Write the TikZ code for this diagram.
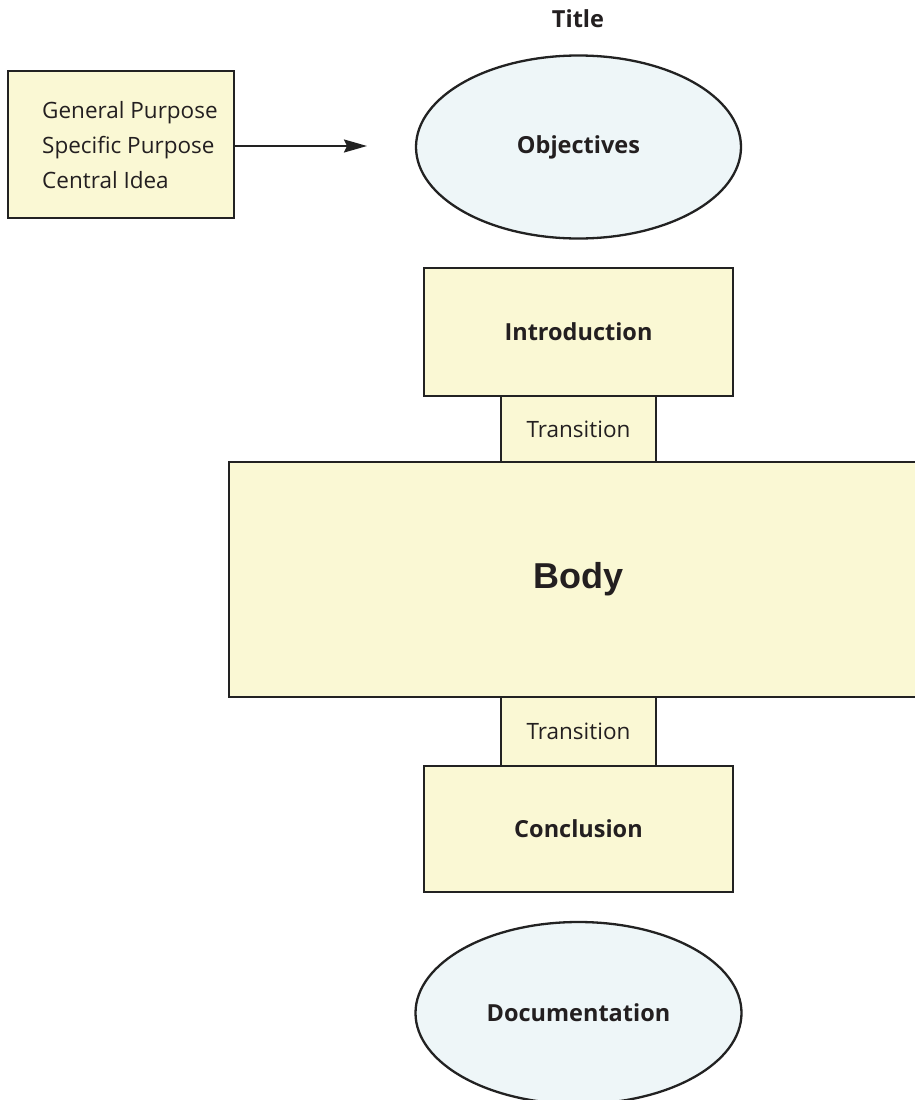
\documentclass[tikz,border=0pt]{standalone}
\usepackage{fontspec}
\setmainfont{Open Sans}
\newfontfamily\heavyfont{Liberation Sans}
\usetikzlibrary{arrows.meta,shapes.geometric}
\definecolor{boxfill}{HTML}{FAF8D4}
\definecolor{ellfill}{HTML}{EEF6F8}
\definecolor{linecol}{HTML}{222222}
\definecolor{labelcol}{HTML}{231F20}
\begin{document}
\begin{tikzpicture}[x=1pt,y=-1pt,
  boxstyle/.style={draw=linecol, line width=2.3pt, fill=boxfill, rectangle, inner sep=0pt, text=labelcol},
  ellstyle/.style={draw=linecol, line width=2.3pt, fill=ellfill, ellipse, inner sep=0pt, text=labelcol},
  boldlabel/.style={font=\fontsize{23.5}{28}\selectfont\bfseries},
  plainlabel/.style={font=\fontsize{22.5}{27}\selectfont},
  bodylabel/.style={font=\heavyfont\fontsize{36}{40}\selectfont\bfseries},
  listtext/.style={font=\fontsize{22.5}{35}\selectfont, align=left, inner sep=0pt, text=labelcol},
  arrowstyle/.style={draw=linecol, line width=2pt, -{Stealth[length=23pt,width=13pt,inset=3pt]}}
]
\path[use as bounding box, fill=white] (0,0) rectangle (914,1100);

\node[boldlabel, text=labelcol] (title) at (578,19) {Title};

\node[boxstyle, minimum width=226pt, minimum height=147pt] (purpose) at (121,144.5) {};
\node[listtext, anchor=west] (purposetext) at (42,145) {General Purpose\\Specific Purpose\\Central Idea};
\coordinate (arrowend) at (367,146);
\draw[arrowstyle] (purpose.east |- arrowend) -- (arrowend);

\node[ellstyle, boldlabel, minimum width=325pt, minimum height=183pt] (objectives) at (578.5,147) {Objectives};

\node[boxstyle, minimum width=155pt, minimum height=66pt, plainlabel] (trans1) at (578.5,429) {Transition};
\node[boxstyle, minimum width=155pt, minimum height=69pt, plainlabel] (trans2) at (578.5,731.5) {Transition};
\node[boxstyle, minimum width=309pt, minimum height=128pt, boldlabel] (intro) at (578.5,332) {Introduction};
\node[boxstyle, minimum width=699pt, minimum height=235pt, bodylabel] (body) at (578.5,579.5) {Body};
\node[boxstyle, minimum width=309pt, minimum height=126pt, boldlabel] (concl) at (578.5,829) {Conclusion};

\node[ellstyle, boldlabel, minimum width=326pt, minimum height=182pt] (doc) at (578.5,1013) {Documentation};
\end{tikzpicture}
\end{document}
